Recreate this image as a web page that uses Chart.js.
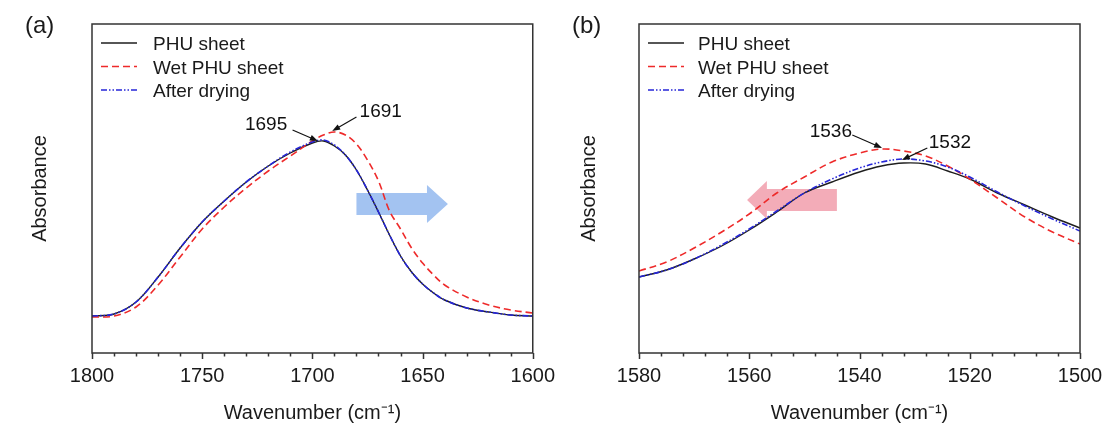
<!DOCTYPE html>
<html>
<head>
<meta charset="utf-8">
<script src="https://cdn.jsdelivr.net/npm/chart.js@4.4.1/dist/chart.umd.min.js"></script>
<style>
  body { margin: 0; background: #fff; }
  #wrap { position: relative; width: 1108px; height: 423px; }
  canvas { position: absolute; top: 0; }
</style>
</head>
<body>
<div id="wrap">
  <canvas id="chartA" width="560" height="423" style="left:0"></canvas>
  <canvas id="chartB" width="554" height="423" style="left:554px"></canvas>
</div>
<script>
// (a) C=O region, absorbance in arbitrary units
const wavesA = [1800, 1790, 1780, 1770, 1760, 1750, 1740, 1730, 1720, 1710, 1700, 1695, 1690, 1685, 1680, 1675, 1670, 1665, 1660, 1655, 1650, 1645, 1640, 1630, 1620, 1610, 1600];
const phuA = [37, 39, 51, 76, 105, 131, 152, 171, 187, 200, 210, 212, 207, 198, 183, 163, 141, 118, 97, 81, 69, 60, 53, 45, 41, 38, 37];
const wetA = [36, 37, 46, 68, 96, 124, 146, 165, 182, 197, 212, 218, 221, 218, 209, 193, 172, 142, 124, 105, 90, 78, 68, 56, 48, 43, 40];
const dryA = [37, 39, 51, 76, 105, 131, 152, 171, 187, 201, 211, 213, 208, 198, 183, 163, 141, 118, 97, 81, 69, 60, 53, 45, 41, 38, 37];

// (b) amide II region
const wavesB = [1580, 1575, 1570, 1565, 1560, 1555, 1550, 1545, 1540, 1536, 1532, 1528, 1524, 1520, 1515, 1510, 1505, 1500];
const phuB = [76, 83, 94, 107, 123, 141, 160, 171, 181, 187, 190, 189, 182, 174, 160, 148, 136, 125];
const wetB = [82, 91, 105, 121, 139, 160, 176, 191, 200, 204, 202, 197, 187, 174, 155, 136, 121, 109];
const dryB = [76, 83, 94, 108, 124, 142, 160, 174, 185, 191, 194, 192, 186, 176, 161, 147, 134, 122];

const seriesNames = ["PHU sheet", "Wet PHU sheet", "After drying"];
const majorTicksA = [1800, 1750, 1700, 1650, 1600];
const majorTicksB = [1580, 1560, 1540, 1520, 1500];

// peak labels: [text, label x, label y, arrow from x, y, arrow to x, y]
const notesA = [["1695", 1721, 228, 1709, 223, 1697.5, 212], ["1691", 1669, 241, 1680, 236, 1691, 222]];
const notesB = [["1536", 1545.2, 221, 1541.3, 218, 1535.9, 205], ["1532", 1523.6, 210, 1527.7, 205, 1532.3, 193]];

const FONT = "'Liberation Sans', Arial, sans-serif";

function pts(xs, ys) {
  return xs.map((x, i) => ({ x: x, y: ys[i] }));
}

function makeSets(xs, a, b, c) {
  return [
    { label: seriesNames[0], data: pts(xs, a), borderColor: "#1e1e1e", borderWidth: 1.4, order: 2 },
    { label: seriesNames[1], data: pts(xs, b), borderColor: "#ee2a2a", borderWidth: 1.6, borderDash: [7, 4], order: 1 },
    { label: seriesNames[2], data: pts(xs, c), borderColor: "#2626d8", borderWidth: 1.6, borderDash: [6, 2, 1.5, 2, 1.5, 2], order: 0 },
  ];
}

// everything drawn by hand: box, ticks, legend, arrows, labels
function decoPlugin(cfg) {
  return {
    id: "deco",
    beforeDatasetsDraw(chart) {
      const ctx = chart.ctx;
      const xs = chart.scales.x, ys = chart.scales.y;
      const a = cfg.block;
      const x0 = xs.getPixelForValue(a.from), x1 = xs.getPixelForValue(a.neck), x2 = xs.getPixelForValue(a.to);
      const yc = ys.getPixelForValue(a.y);
      ctx.save();
      ctx.fillStyle = a.color;
      ctx.beginPath();
      ctx.moveTo(x0, yc - 11);
      ctx.lineTo(x1, yc - 11);
      ctx.lineTo(x1, yc - 19);
      ctx.lineTo(x2, yc);
      ctx.lineTo(x1, yc + 19);
      ctx.lineTo(x1, yc + 11);
      ctx.lineTo(x0, yc + 11);
      ctx.closePath();
      ctx.fill();
      ctx.restore();
    },
    afterDraw(chart) {
      const ctx = chart.ctx;
      const area = chart.chartArea;
      const xs = chart.scales.x, ys = chart.scales.y;
      ctx.save();

      // frame
      ctx.strokeStyle = "#333";
      ctx.lineWidth = 1.5;
      ctx.strokeRect(area.left, area.top, area.right - area.left, area.bottom - area.top);

      // ticks, pointing out
      xs.ticks.forEach(t => {
        const px = Math.round(xs.getPixelForValue(t.value)) + 0.5;
        const len = cfg.majors.includes(t.value) ? 6 : 3.5;
        ctx.beginPath();
        ctx.moveTo(px, area.bottom);
        ctx.lineTo(px, area.bottom + len);
        ctx.stroke();
      });

      // legend
      ctx.font = "19px " + FONT;
      ctx.textBaseline = "middle";
      ctx.fillStyle = "#1a1a1a";
      chart.data.datasets.forEach((ds, i) => {
        const y = area.top + 21 + i * 23.5;
        ctx.save();
        ctx.strokeStyle = ds.borderColor;
        ctx.lineWidth = ds.borderWidth;
        ctx.setLineDash(ds.borderDash || []);
        ctx.beginPath();
        ctx.moveTo(area.left + 9, y - 2);
        ctx.lineTo(area.left + 45, y - 2);
        ctx.stroke();
        ctx.restore();
        ctx.fillText(ds.label, area.left + cfg.legendText, y);
      });

      // peak labels with small arrows
      ctx.textAlign = "center";
      ctx.strokeStyle = "#111";
      ctx.fillStyle = "#111";
      ctx.lineWidth = 1.2;
      cfg.notes.forEach(n => {
        ctx.fillText(n[0], xs.getPixelForValue(n[1]), ys.getPixelForValue(n[2]));
        const ax = xs.getPixelForValue(n[3]), ay = ys.getPixelForValue(n[4]);
        const bx = xs.getPixelForValue(n[5]), by = ys.getPixelForValue(n[6]);
        const ang = Math.atan2(by - ay, bx - ax);
        ctx.beginPath();
        ctx.moveTo(ax, ay);
        ctx.lineTo(bx - 5 * Math.cos(ang), by - 5 * Math.sin(ang));
        ctx.stroke();
        ctx.beginPath();
        ctx.moveTo(bx, by);
        ctx.lineTo(bx - 8 * Math.cos(ang) + 3 * Math.sin(ang), by - 8 * Math.sin(ang) - 3 * Math.cos(ang));
        ctx.lineTo(bx - 8 * Math.cos(ang) - 3 * Math.sin(ang), by - 8 * Math.sin(ang) + 3 * Math.cos(ang));
        ctx.closePath();
        ctx.fill();
      });

      // panel letter
      ctx.textAlign = "left";
      ctx.font = "24px " + FONT;
      ctx.fillStyle = "#1a1a1a";
      ctx.fillText(cfg.letter, cfg.letterX, 26);
      ctx.restore();
    }
  };
}

function makeChart(id, xs, a, b, c, opt) {
  const ctx = document.getElementById(id).getContext("2d");
  return new Chart(ctx, {
    type: "line",
    data: { datasets: makeSets(xs, a, b, c) },
    options: {
      responsive: false,
      animation: false,
      devicePixelRatio: 1,
      layout: { padding: { top: 24, right: opt.padRight, left: 0, bottom: 0 } },
      elements: { point: { radius: 0 }, line: { tension: 0.35, fill: false } },
      plugins: { legend: { display: false }, tooltip: { enabled: false } },
      scales: {
        x: {
          type: "linear",
          reverse: true,
          min: opt.min,
          max: opt.max,
          afterFit: s => { s.height = 70; },
          grid: { display: false, drawTicks: true, tickLength: 6 },
          border: { display: false },
          ticks: {
            stepSize: opt.step,
            autoSkip: false,
            maxRotation: 0,
            padding: 5,
            color: "#1a1a1a",
            font: { family: FONT, size: 20 },
            callback: v => (opt.majors.includes(v) ? String(v) : "")
          },
          title: {
            display: true,
            text: "Wavenumber (cm⁻¹)",
            color: "#1a1a1a",
            font: { family: FONT, size: 20 },
            padding: { top: 0, bottom: -2 }
          }
        },
        y: {
          min: 0,
          max: 329,
          afterFit: s => { s.width = opt.yWidth; },
          grid: { display: false },
          border: { display: false },
          ticks: { display: false },
          title: {
            display: true,
            text: "Absorbance",
            color: "#1a1a1a",
            font: { family: FONT, size: 20 },
            padding: { top: opt.yTitlePad, bottom: 0 }
          }
        }
      }
    },
    plugins: [decoPlugin(opt)]
  });
}

makeChart("chartA", wavesA, phuA, wetA, dryA, {
  min: 1600, max: 1800, step: 10, majors: majorTicksA,
  padRight: 27, yWidth: 92, yTitlePad: 28,
  legendText: 61, letter: "(a)", letterX: 25, notes: notesA,
  block: { from: 1680, neck: 1648, to: 1638.5, y: 149, color: "rgba(128,172,236,0.72)" }
});

makeChart("chartB", wavesB, phuB, wetB, dryB, {
  min: 1500, max: 1580, step: 4, majors: majorTicksB,
  padRight: 28, yWidth: 85, yTitlePad: 23,
  legendText: 59, letter: "(b)", letterX: 18, notes: notesB,
  block: { from: 1544.1, neck: 1556.8, to: 1560.4, y: 153, color: "rgba(236,128,146,0.65)" }
});
</script>
</body>
</html>
